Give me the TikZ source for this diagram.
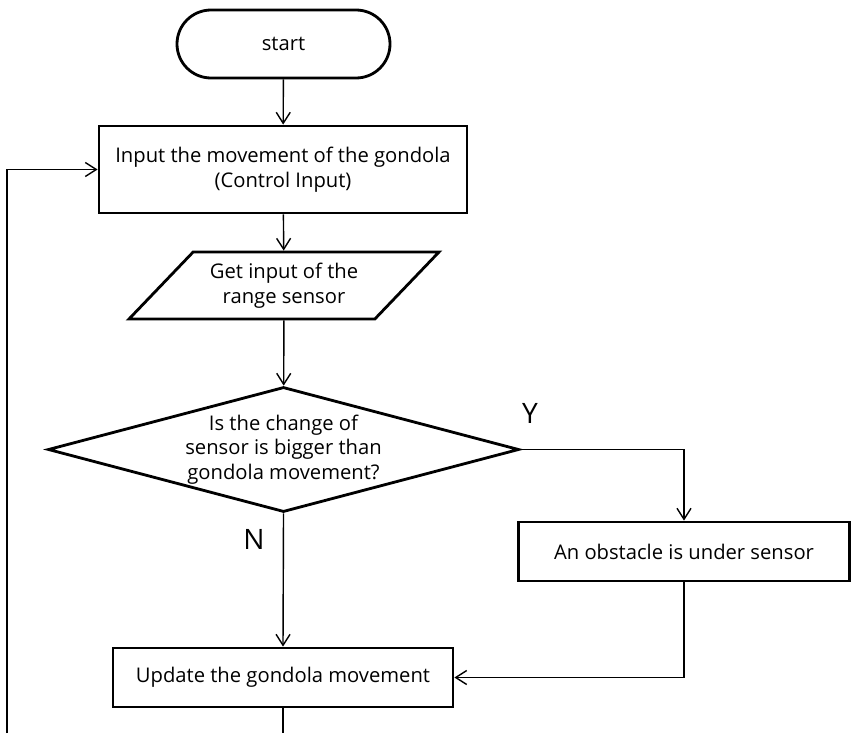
\documentclass[tikz,border=0pt]{standalone}
\usepackage{fontspec}
\setmainfont{Open Sans}
\usetikzlibrary{shapes.geometric}
\usetikzlibrary{shapes.misc, arrows.meta}

\tikzset{
  flowbox/.style={draw,line width=1.6pt,font=\fontsize{11.5}{14}\selectfont,align=center,inner sep=0pt},
  flowline/.style={line width=0.8pt,-{Straight Barb[length=2.2mm,width=2.8mm]}},
  yesno/.style={font=\fontsize{16}{19}\selectfont}
}

\begin{document}
\begin{tikzpicture}
\useasboundingbox (0,0) rectangle (17.1,-14.66);
\node[flowbox,rounded rectangle,minimum width=4.26cm,minimum height=1.36cm] (start) at (5.67,-0.88) {start};
\node[flowbox,rectangle,minimum width=7.36cm,minimum height=1.74cm] (ctrl) at (5.66,-3.39) {Input the movement of the gondola\\(Control Input)};
\node[flowbox,trapezium,trapezium left angle=35,trapezium right angle=145,trapezium stretches body,minimum width=6.2cm,minimum height=1.34cm] (range) at (5.68,-5.71) {Get input of the\\range sensor};
\node[flowbox,diamond,aspect=3.77,minimum width=9.42cm,minimum height=2.5cm] (check) at (5.67,-8.99) {Is the change of\\sensor is bigger than\\gondola movement?};
\node[flowbox,rectangle,minimum width=6.62cm,minimum height=1.18cm] (obst) at (13.68,-11.03) {An obstacle is under sensor};
\node[flowbox,rectangle,minimum width=6.8cm,minimum height=1.18cm] (update) at (5.66,-13.55) {Update the gondola movement};
\node[yesno] (yes) at (10.6,-8.26) {Y};
\node[yesno] (no) at (5.08,-10.78) {N};
\coordinate (loopend) at (0.14,-14.66);
\coordinate (downend) at (5.66,-14.66);

\draw[flowline] (start) -- (ctrl);
\draw[flowline] (ctrl) -- (range);
\draw[flowline] (range) -- (check);
\draw[flowline] (check.east) -| (obst.north);
\draw[flowline] (check.south) -- (update.north);
\draw[flowline] (obst.south) |- (update.east);
\draw[line width=0.8pt] (update.south) -- (downend);
\draw[flowline] (loopend) |- (ctrl.west);
\end{tikzpicture}
\end{document}
